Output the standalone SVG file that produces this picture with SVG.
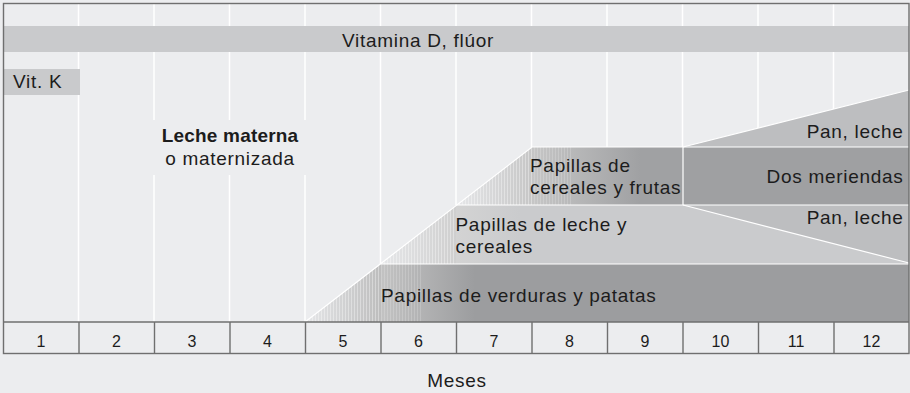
<svg xmlns="http://www.w3.org/2000/svg" width="910" height="393" viewBox="0 0 910 393">
<style>
.lbl{font-family:"Liberation Sans",Arial,sans-serif;font-size:19px;letter-spacing:0.7px;fill:#1c1c1c}
.bold{font-weight:bold;letter-spacing:0.2px}
.num{font-family:"Liberation Sans",Arial,sans-serif;font-size:16px;fill:#1c1c1c;text-anchor:middle}
.grid{stroke:#ffffff;stroke-width:1.5}
.wl{stroke:#ffffff;stroke-width:1.2;fill:none}
.ax{stroke:#6f6f6f;stroke-width:1.4;fill:none}
</style>
<defs>
<pattern id="stripes" x="0" y="0" width="3" height="10" patternUnits="userSpaceOnUse">
<rect x="0" y="0" width="1" height="10" fill="#ffffff" fill-opacity="0.35"/>
</pattern>
<linearGradient id="rampV" gradientUnits="userSpaceOnUse" x1="305" y1="0" x2="381" y2="0">
<stop offset="0" stop-color="#e6e7e9"/><stop offset="1" stop-color="#bdbdbd"/>
</linearGradient>
<linearGradient id="bandV" gradientUnits="userSpaceOnUse" x1="381" y1="0" x2="475" y2="0">
<stop offset="0" stop-color="#c3c3c3"/><stop offset="1" stop-color="#9c9d9f"/>
</linearGradient>
<linearGradient id="rampL" gradientUnits="userSpaceOnUse" x1="381" y1="0" x2="456" y2="0">
<stop offset="0" stop-color="#e6e7e9"/><stop offset="1" stop-color="#cfcfcf"/>
</linearGradient>
<linearGradient id="bandL" gradientUnits="userSpaceOnUse" x1="456" y1="0" x2="520" y2="0">
<stop offset="0" stop-color="#d3d3d3"/><stop offset="1" stop-color="#cacbcd"/>
</linearGradient>
<linearGradient id="rampF" gradientUnits="userSpaceOnUse" x1="456" y1="0" x2="532" y2="0">
<stop offset="0" stop-color="#e6e7e9"/><stop offset="1" stop-color="#c6c6c6"/>
</linearGradient>
<linearGradient id="bandF" gradientUnits="userSpaceOnUse" x1="532" y1="0" x2="640" y2="0">
<stop offset="0" stop-color="#c6c6c6"/><stop offset="1" stop-color="#a0a1a3"/>
</linearGradient>
</defs>

<rect x="0" y="0" width="910" height="393" fill="#ecedef"/>

<g id="grid">
<line class="grid" x1="78.5" y1="3" x2="78.5" y2="322"/>
<line class="grid" x1="154" y1="3" x2="154" y2="322"/>
<line class="grid" x1="229.5" y1="3" x2="229.5" y2="322"/>
<line class="grid" x1="305" y1="3" x2="305" y2="322"/>
<line class="grid" x1="380.5" y1="3" x2="380.5" y2="322"/>
<line class="grid" x1="456" y1="3" x2="456" y2="322"/>
<line class="grid" x1="531.5" y1="3" x2="531.5" y2="322"/>
<line class="grid" x1="607" y1="3" x2="607" y2="322"/>
<line class="grid" x1="682.5" y1="3" x2="682.5" y2="322"/>
<line class="grid" x1="758" y1="3" x2="758" y2="322"/>
<line class="grid" x1="833.5" y1="3" x2="833.5" y2="322"/>
</g>

<g id="vitamina-d">
<rect x="3" y="26" width="906" height="26" fill="#c9cacc"/>
<text class="lbl" x="342" y="46.5">Vitamina D, flúor</text>
</g>

<g id="vit-k">
<rect x="3" y="69" width="77" height="26" fill="#c9cacc"/>
<text class="lbl" x="13" y="88">Vit. K</text>
</g>

<g id="leche-materna">
<rect x="151" y="120" width="157" height="55" fill="#ecedef"/>
<text class="lbl bold" x="230" y="142" text-anchor="middle">Leche materna</text>
<text class="lbl" x="230" y="165" text-anchor="middle">o maternizada</text>
</g>

<g id="verduras">
<polygon points="305,322 381,264 381,322" fill="url(#rampV)"/>
<polygon points="305,322 381,264 381,322" fill="url(#stripes)"/>
<rect x="381" y="264" width="528" height="58" fill="url(#bandV)"/>
<rect x="381" y="264" width="40" height="58" fill="url(#stripes)" fill-opacity="0.5"/>
<text class="lbl" x="381" y="301.5">Papillas de verduras y patatas</text>
</g>

<g id="leche-cereales">
<polygon points="381,264 456,205 456,264" fill="url(#rampL)"/>
<polygon points="381,264 456,205 456,264" fill="url(#stripes)"/>
<rect x="456" y="205" width="453" height="59" fill="url(#bandL)"/>
<text class="lbl" x="455.5" y="230.5">Papillas de leche y</text>
<text class="lbl" x="455.5" y="253">cereales</text>
</g>

<g id="pan-leche-inferior">
<polygon points="683,205 909,205 909,263" fill="#bdbec0"/>
<text class="lbl" x="903.5" y="224" text-anchor="end">Pan, leche</text>
</g>

<g id="cereales-frutas">
<polygon points="456,205 532,147 532,205" fill="url(#rampF)"/>
<polygon points="456,205 532,147 532,205" fill="url(#stripes)"/>
<rect x="532" y="147" width="151" height="58" fill="url(#bandF)"/>
<rect x="532" y="147" width="40" height="58" fill="url(#stripes)" fill-opacity="0.5"/>
<text class="lbl" x="530" y="171.5">Papillas de</text>
<text class="lbl" x="530" y="194">cereales y frutas</text>
</g>

<g id="dos-meriendas">
<rect x="683" y="147" width="226" height="58" fill="#9fa0a2"/>
<text class="lbl" x="903.5" y="182.5" text-anchor="end">Dos meriendas</text>
</g>

<g id="pan-leche-superior">
<polygon points="683,147 909,90 909,147" fill="#bdbec0"/>
<text class="lbl" x="903.5" y="138" text-anchor="end">Pan, leche</text>
</g>

<g id="connectors">
<polyline class="wl" points="305,322 532,147 909,147"/>
<line class="wl" x1="381" y1="264" x2="909" y2="264"/>
<line class="wl" x1="456" y1="205" x2="909" y2="205"/>
<line class="wl" x1="683" y1="147" x2="683" y2="205"/>
<line class="wl" x1="683" y1="147" x2="909" y2="90"/>
<line class="wl" x1="683" y1="205" x2="909" y2="263"/>
</g>

<g id="eje">
<rect class="ax" x="3.5" y="3.5" width="905.5" height="350"/>
<line class="ax" x1="3.5" y1="322" x2="909" y2="322"/>
<line class="ax" x1="79" y1="322" x2="79" y2="354"/>
<line class="ax" x1="154.5" y1="322" x2="154.5" y2="354"/>
<line class="ax" x1="230" y1="322" x2="230" y2="354"/>
<line class="ax" x1="305.5" y1="322" x2="305.5" y2="354"/>
<line class="ax" x1="381" y1="322" x2="381" y2="354"/>
<line class="ax" x1="456.5" y1="322" x2="456.5" y2="354"/>
<line class="ax" x1="532" y1="322" x2="532" y2="354"/>
<line class="ax" x1="607.5" y1="322" x2="607.5" y2="354"/>
<line class="ax" x1="683" y1="322" x2="683" y2="354"/>
<line class="ax" x1="758.5" y1="322" x2="758.5" y2="354"/>
<line class="ax" x1="834" y1="322" x2="834" y2="354"/>
<text class="num" x="41" y="347">1</text>
<text class="num" x="116.5" y="347">2</text>
<text class="num" x="192" y="347">3</text>
<text class="num" x="267.5" y="347">4</text>
<text class="num" x="343" y="347">5</text>
<text class="num" x="418.5" y="347">6</text>
<text class="num" x="494" y="347">7</text>
<text class="num" x="569.5" y="347">8</text>
<text class="num" x="645" y="347">9</text>
<text class="num" x="720.5" y="347">10</text>
<text class="num" x="796" y="347">11</text>
<text class="num" x="871.5" y="347">12</text>
<text class="lbl" x="457" y="387" text-anchor="middle">Meses</text>
</g>
</svg>
